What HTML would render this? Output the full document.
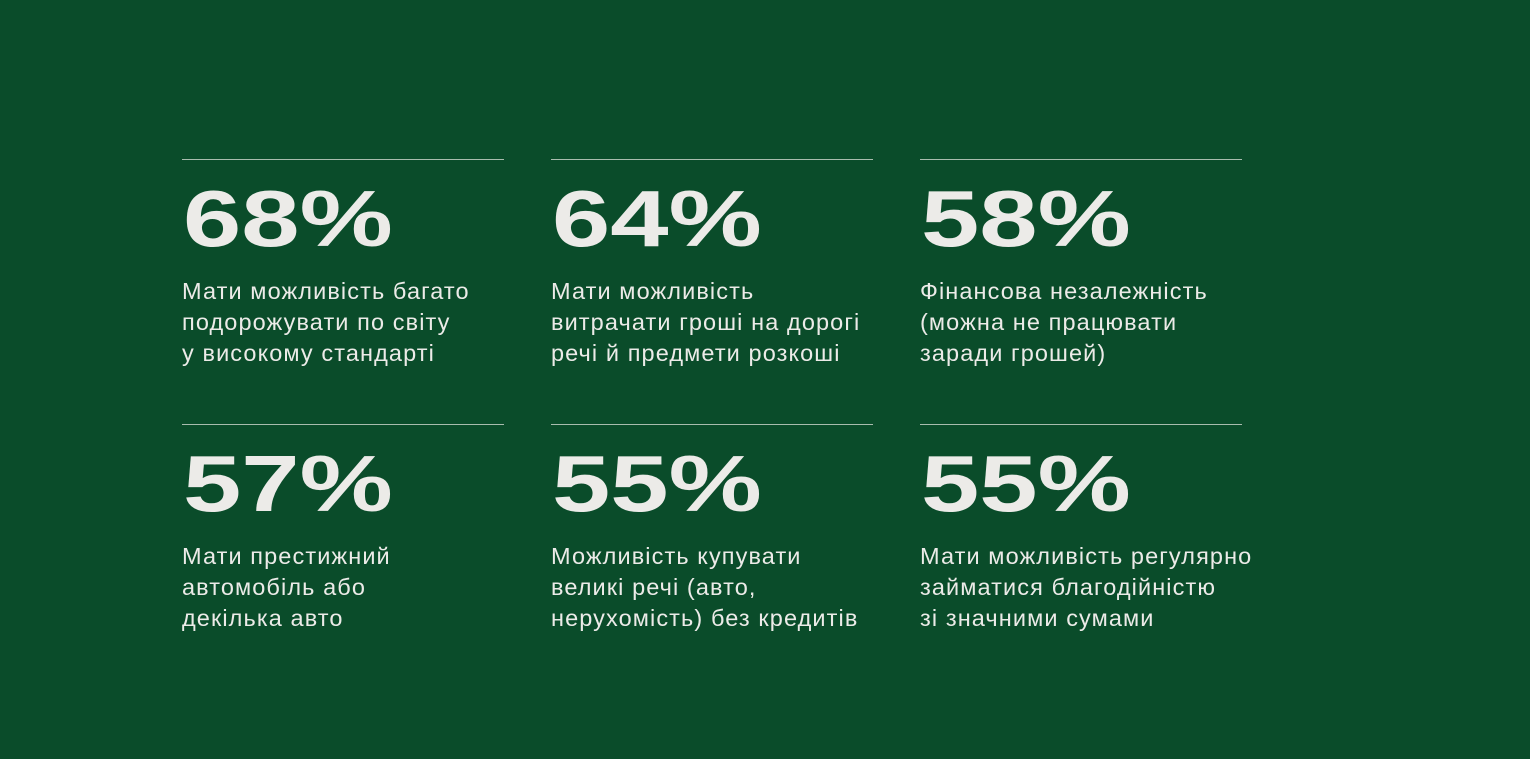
<!DOCTYPE html>
<html><head><meta charset="utf-8"><style>
html,body{margin:0;padding:0}
body{width:1530px;height:759px;background:#0a4c2a;position:relative;overflow:hidden;font-family:"Liberation Sans","DejaVu Sans",sans-serif;color:#ecebe8}
.c{position:absolute;width:322px}
.ln{height:1px;background:#a9bcae;width:322px}
.n{position:absolute;left:1px;top:15px;font-weight:bold;font-size:80px;line-height:90px;transform:scaleX(1.31);transform-origin:0 0}
.t{position:absolute;left:0;top:117px;font-size:23.5px;line-height:31px;white-space:nowrap;letter-spacing:1.1px}
</style></head><body>
<div class="c" style="left:182px;top:159px"><div class="ln"></div><div class="n">68%</div><div class="t">Мати можливість багато<br>подорожувати по світу<br>у високому стандарті</div></div>
<div class="c" style="left:551px;top:159px"><div class="ln"></div><div class="n">64%</div><div class="t">Мати можливість<br>витрачати гроші на дорогі<br>речі й предмети розкоші</div></div>
<div class="c" style="left:920px;top:159px"><div class="ln"></div><div class="n">58%</div><div class="t">Фінансова незалежність<br>(можна не працювати<br>заради грошей)</div></div>
<div class="c" style="left:182px;top:424px"><div class="ln"></div><div class="n">57%</div><div class="t">Мати престижний<br>автомобіль або<br>декілька авто</div></div>
<div class="c" style="left:551px;top:424px"><div class="ln"></div><div class="n">55%</div><div class="t">Можливість купувати<br>великі речі (авто,<br>нерухомість) без кредитів</div></div>
<div class="c" style="left:920px;top:424px"><div class="ln"></div><div class="n">55%</div><div class="t">Мати можливість регулярно<br>займатися благодійністю<br>зі значними сумами</div></div>
</body></html>
